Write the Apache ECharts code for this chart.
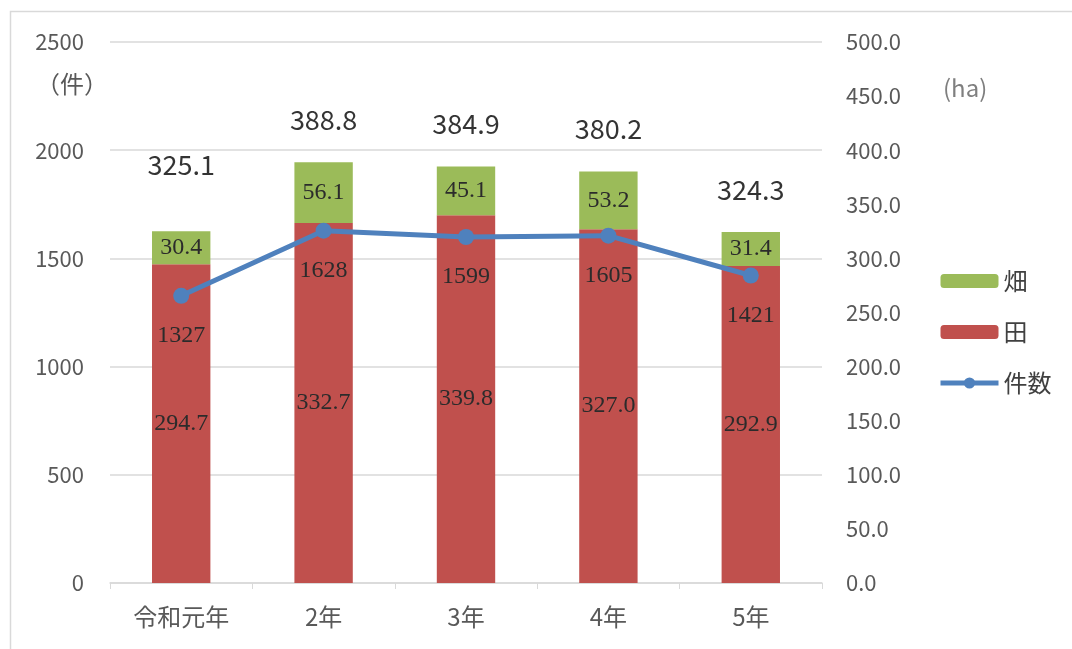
<!DOCTYPE html>
<html>
<head>
<meta charset="utf-8">
<script src="https://cdn.jsdelivr.net/npm/echarts@6/dist/echarts.min.js"></script>
<style>
html, body { margin: 0; padding: 0; background: #fff; }
#main { width: 1072px; height: 649px; }
</style>
</head>
<body>
<div id="main"></div>
<script>
// data
var categories = ['令和元年', '2年', '3年', '4年', '5年'];
var taArea = [294.7, 332.7, 339.8, 327.0, 292.9];      // 田 (ha)
var hataArea = [30.4, 56.1, 45.1, 53.2, 31.4];         // 畑 (ha)
var totalArea = [325.1, 388.8, 384.9, 380.2, 324.3];   // 合計 (ha)
var counts = [1327, 1628, 1599, 1605, 1421];           // 件数

var jp = '"Noto Sans CJK JP", sans-serif';
var serif = '"Liberation Serif", serif';

var dom = document.getElementById('main');
var myChart = echarts.init(dom);

var option = {
	animation: false,
	textStyle: { fontFamily: jp },
	grid: {
		left: 110,
		right: 250,
		top: 42,
		bottom: 66
	},
	graphic: [
		{
			type: 'rect',
			left: 8, top: 9,
			shape: { width: 1070, height: 660 },
			style: { fill: 'none', stroke: '#d9d9d9', lineWidth: 1.5 },
			silent: true
		},
		{
			type: 'text', left: 36, top: 72,
			style: { text: '（件）', fontSize: 24, fontFamily: jp, fill: '#595959' }
		},
		{
			type: 'text', left: 943, top: 76,
			style: { text: '(ha)', fontSize: 24, fontFamily: jp, fill: '#7f7f7f' }
		}
	],
	legend: {
		data: [
			'畑',
			'田',
			{ name: '件数', itemStyle: { color: '#4F81BD' }, lineStyle: { width: 5 } }
		],
		orient: 'vertical',
		left: 933,
		top: 264,
		itemWidth: 58,
		itemHeight: 14,
		itemGap: 27,
		textStyle: { fontSize: 24, color: '#404040', fontFamily: jp }
	},
	xAxis: {
		type: 'category',
		data: categories,
		axisLine: { lineStyle: { color: '#d9d9d9', width: 1.5 } },
		axisTick: { show: true, alignWithLabel: false, length: 6, lineStyle: { color: '#d9d9d9' } },
		axisLabel: { fontSize: 24, color: '#595959', margin: 22, fontFamily: jp }
	},
	yAxis: [
		{
			type: 'value',
			min: 0,
			max: 2500,
			interval: 500,
			axisLine: { show: false },
			axisTick: { show: false },
			axisLabel: {
				fontSize: 22, color: '#595959', margin: 26, fontFamily: jp,
				formatter: function (v) { return String(v); }
			},
			splitLine: { lineStyle: { color: '#d9d9d9', width: 1.5 } }
		},
		{
			type: 'value',
			min: 0,
			max: 500,
			interval: 50,
			axisLine: { show: false },
			axisTick: { show: false },
			axisLabel: {
				fontSize: 22, color: '#595959', margin: 24, fontFamily: jp,
				formatter: function (v) { return v.toFixed(1); }
			},
			splitLine: { show: false }
		}
	],
	series: [
		{
			name: '田',
			type: 'bar',
			yAxisIndex: 1,
			stack: 'area',
			barWidth: '41%',
			data: taArea,
			itemStyle: { color: '#C0504D' },
			label: {
				show: true, position: 'inside', fontSize: 24, color: '#2b2b2b',
				fontFamily: serif,
				formatter: function (p) { return p.value.toFixed(1); }
			}
		},
		{
			name: '畑',
			type: 'bar',
			yAxisIndex: 1,
			stack: 'area',
			barWidth: '41%',
			data: hataArea,
			itemStyle: { color: '#9BBB59' },
			label: {
				show: true, position: 'inside', fontSize: 24, color: '#2b2b2b',
				fontFamily: serif,
				formatter: function (p) { return p.value.toFixed(1); }
			}
		},
		{
			name: '合計',
			type: 'scatter',
			yAxisIndex: 1,
			data: totalArea.map(function (v, i) {
				return { value: v, label: { distance: i === 0 ? 52 : 28 } };
			}),
			symbol: 'circle',
			symbolSize: 2,
			itemStyle: { color: 'rgba(0,0,0,0)' },
			silent: true,
			z: 5,
			label: {
				show: true, position: 'top', fontSize: 27, color: '#000',
				fontFamily: jp,
				formatter: function (p) { return p.value.toFixed(1); }
			}
		},
		{
			name: '件数',
			type: 'line',
			yAxisIndex: 0,
			data: counts,
			symbol: 'circle',
			symbolSize: 16,
			lineStyle: { color: '#4F81BD', width: 5 },
			itemStyle: { color: '#4F81BD' },
			label: {
				show: true, position: 'bottom', distance: 20, fontSize: 24,
				color: '#2b2b2b', fontFamily: serif
			}
		}
	]
};

myChart.setOption(option, true);
window.addEventListener('resize', function () { myChart.resize(); });
</script>
</body>
</html>
